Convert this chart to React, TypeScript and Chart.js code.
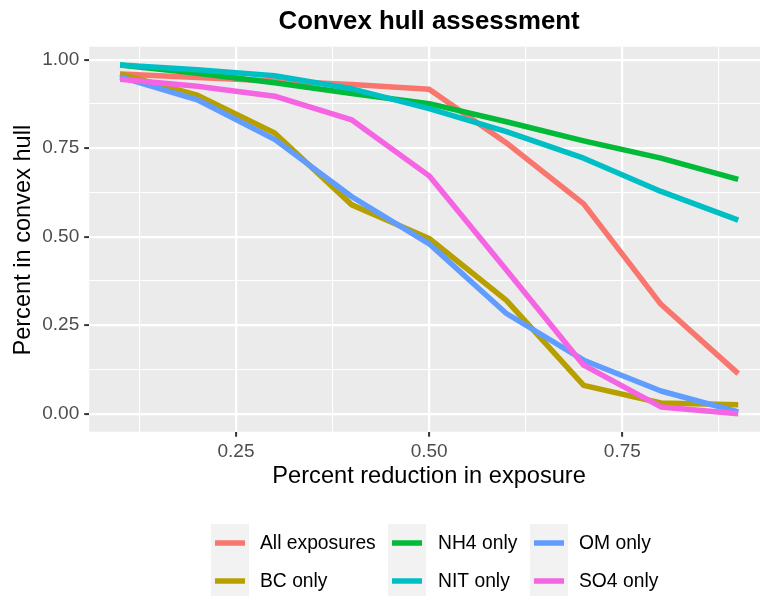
import React, { useEffect, useRef } from "react";
import { Chart, registerables } from "chart.js";

Chart.register(...registerables);

const xValues = [0.1, 0.2, 0.3, 0.4, 0.5, 0.6, 0.7, 0.8, 0.9];
const allExposures = [0.96, 0.95, 0.94, 0.93, 0.917, 0.765, 0.593, 0.309, 0.113];
const bcOnly = [0.96, 0.9, 0.793, 0.59, 0.495, 0.32, 0.08, 0.03, 0.025];
const nh4Only = [0.985, 0.962, 0.935, 0.905, 0.876, 0.825, 0.771, 0.722, 0.662];
const nitOnly = [0.985, 0.972, 0.955, 0.918, 0.862, 0.797, 0.722, 0.628, 0.547];
const omOnly = [0.952, 0.887, 0.775, 0.613, 0.48, 0.283, 0.151, 0.064, 0.005];
const so4Only = [0.945, 0.925, 0.897, 0.83, 0.672, 0.406, 0.137, 0.019, 0.0];

const seriesNames = ["All exposures", "BC only", "NH4 only", "NIT only", "OM only", "SO4 only"];
const seriesColors = ["#F8766D", "#B79F00", "#00BA38", "#00BFC4", "#619CFF", "#F564E3"];
const seriesValues = [allExposures, bcOnly, nh4Only, nitOnly, omOnly, so4Only];

const xTicks = [0.125, 0.25, 0.375, 0.5, 0.625, 0.75, 0.875];
const xTickLabels: Record<string, string> = { "0.25": "0.25", "0.5": "0.50", "0.75": "0.75" };
const yTicks = [0, 0.125, 0.25, 0.375, 0.5, 0.625, 0.75, 0.875, 1];
const yTickLabels: Record<string, string> = { "0": "0.00", "0.25": "0.25", "0.5": "0.50", "0.75": "0.75", "1": "1.00" };

const titleText = "Convex hull assessment";
const xTitle = "Percent reduction in exposure";
const yTitle = "Percent in convex hull";

const FONT = "'Liberation Sans', Arial, Helvetica, sans-serif";
const LINE_W = 5.5;

const isMajor = (v: number, labels: Record<string, string>) => labels[String(v)] !== undefined;

export default function App() {
  const ref = useRef<HTMLCanvasElement | null>(null);
  useEffect(() => {
    if (!ref.current) return;
    const decor = {
      id: "decor",
      beforeDraw(chart: any) {
        const { ctx, chartArea } = chart;
        ctx.save();
        ctx.fillStyle = "#FFFFFF";
        ctx.fillRect(0, 0, chart.width, chart.height);
        ctx.fillStyle = "#EBEBEB";
        ctx.fillRect(chartArea.left, chartArea.top, chartArea.right - chartArea.left, chartArea.bottom - chartArea.top);
        ctx.restore();
      },
      afterDraw(chart: any) {
        const { ctx, chartArea } = chart;
        const cx = (chartArea.left + 769) / 2;
        ctx.save();
        ctx.fillStyle = "#000000";
        ctx.textAlign = "center";
        ctx.textBaseline = "alphabetic";
        ctx.font = `bold 25.8px ${FONT}`;
        ctx.fillText(titleText, cx, 29);
        ctx.font = `23.6px ${FONT}`;
        ctx.fillText(xTitle, cx, 483);
        ctx.save();
        ctx.translate(30, (chartArea.top + chartArea.bottom) / 2 + 1);
        ctx.rotate(-Math.PI / 2);
        ctx.fillText(yTitle, 0, 0);
        ctx.restore();
        // legend
        const colX = [211, 388, 530];
        const textX = [260, 438, 579];
        const rowY = [524, 562];
        ctx.font = `19.3px ${FONT}`;
        ctx.textAlign = "left";
        ctx.textBaseline = "middle";
        seriesNames.forEach((name, i) => {
          const col = Math.floor(i / 2);
          const row = i % 2;
          const kx = colX[col];
          const ky = rowY[row];
          ctx.fillStyle = "#F2F2F2";
          ctx.fillRect(kx, ky, 38, 38);
          ctx.strokeStyle = seriesColors[i];
          ctx.lineWidth = LINE_W;
          ctx.lineCap = "butt";
          ctx.beginPath();
          ctx.moveTo(kx + 4, ky + 19);
          ctx.lineTo(kx + 34, ky + 19);
          ctx.stroke();
          ctx.fillStyle = "#000000";
          ctx.fillText(name, textX[col], ky + 20);
        });
        ctx.restore();
      },
    };
    const datasets = seriesNames
      .map((name, i) => ({
        label: name,
        data: xValues.map((x, j) => ({ x, y: seriesValues[i][j] })),
        borderColor: seriesColors[i],
        backgroundColor: seriesColors[i],
        borderWidth: LINE_W,
        borderCapStyle: "butt" as const,
        borderJoinStyle: "round" as const,
        pointRadius: 0,
        fill: false,
        tension: 0,
      }))
      .reverse();
    const chart = new Chart(ref.current, {
      type: "line",
      data: { datasets },
      plugins: [decor],
      options: {
        animation: false,
        responsive: false,
        devicePixelRatio: 1,
        layout: { padding: { top: 46.7, right: 0, left: 0, bottom: 0 } },
        plugins: { legend: { display: false }, tooltip: { enabled: false }, title: { display: false } },
        scales: {
          x: {
            type: "linear",
            min: 0.06,
            max: 0.9282,
            bounds: "data",
            afterFit: (s: any) => {
              s.height = 596 - 431.7;
            },
            afterBuildTicks: (s: any) => {
              s.ticks = xTicks.map((v) => ({ value: v }));
            },
            border: { display: false },
            grid: {
              color: "#FFFFFF",
              lineWidth: (c: any) => (isMajor(c.tick?.value, xTickLabels) ? 2.2 : 1.1),
              tickColor: (c: any) => (isMajor(c.tick?.value, xTickLabels) ? "#333333" : "rgba(0,0,0,0)"),
              tickWidth: 2,
              tickLength: 5,
              drawTicks: true,
            },
            ticks: {
              autoSkip: false,
              maxRotation: 0,
              padding: 4,
              color: "#4D4D4D",
              font: { family: FONT, size: 19 },
              callback: (v: any) => xTickLabels[String(v)] ?? "",
            },
          },
          y: {
            type: "linear",
            min: -0.051,
            max: 1.037,
            bounds: "data",
            afterFit: (s: any) => {
              s.width = 89.2;
            },
            afterBuildTicks: (s: any) => {
              s.ticks = yTicks.map((v) => ({ value: v }));
            },
            border: { display: false },
            grid: {
              color: "#FFFFFF",
              lineWidth: (c: any) => (isMajor(c.tick?.value, yTickLabels) ? 2.2 : 1.1),
              tickColor: (c: any) => (isMajor(c.tick?.value, yTickLabels) ? "#333333" : "rgba(0,0,0,0)"),
              tickWidth: 2,
              tickLength: 5,
              drawTicks: true,
            },
            ticks: {
              autoSkip: false,
              padding: 5,
              color: "#4D4D4D",
              font: { family: FONT, size: 19 },
              callback: (v: any) => yTickLabels[String(v)] ?? "",
            },
          },
        },
      },
    });
    return () => chart.destroy();
  }, []);
  return (
    <div style={{ position: "absolute", left: 0, top: 0, width: 760, height: 596, background: "#fff" }}>
      <canvas ref={ref} width={760} height={596} style={{ display: "block" }} />
    </div>
  );
}
